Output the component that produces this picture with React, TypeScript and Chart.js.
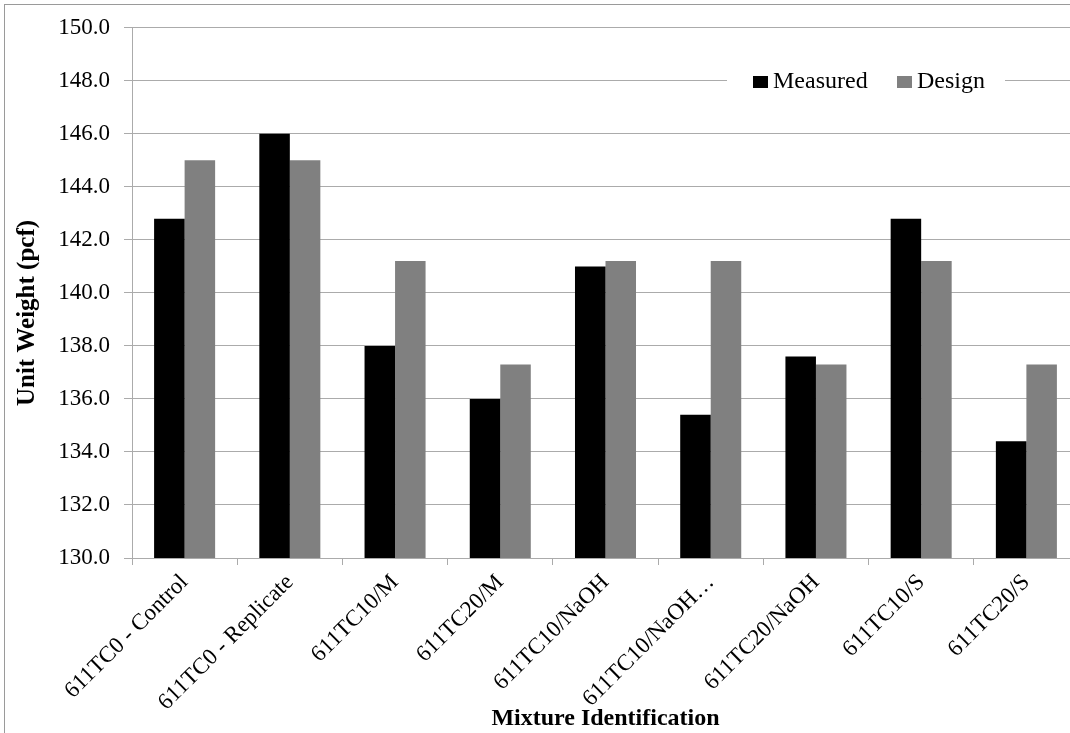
import React, { useEffect, useRef } from "react";
import { Chart, registerables } from "chart.js";

Chart.register(...registerables);

const categories = [
  "611TC0 - Control",
  "611TC0 - Replicate",
  "611TC10/M",
  "611TC20/M",
  "611TC10/NaOH",
  "611TC10/NaOH…",
  "611TC20/NaOH",
  "611TC10/S",
  "611TC20/S",
];
const measured = [142.8, 146.0, 138.0, 136.0, 141.0, 135.4, 137.6, 142.8, 134.4];
const design = [145.0, 145.0, 141.2, 137.3, 141.2, 141.2, 137.3, 141.2, 137.3];
const seriesNames = ["Measured", "Design"];
const yMin = 130;
const yMax = 150;
const yStep = 2;
const yTitle = "Unit Weight (pcf)";
const xTitle = "Mixture Identification";

const FONT = "'Liberation Serif', 'Times New Roman', serif";
const GRID = "#ababab";

const overlayPlugin = {
  id: "overlay",
  afterDraw(chart: any) {
    const ctx = chart.ctx;
    ctx.save();
    // y axis title
    ctx.translate(28, 313);
    ctx.rotate(-Math.PI / 2);
    ctx.font = `bold 25px ${FONT}`;
    ctx.fillStyle = "#000";
    ctx.textAlign = "center";
    ctx.textBaseline = "middle";
    ctx.fillText(yTitle, 0, 0);
    ctx.restore();

    // legend inside plot area
    ctx.save();
    ctx.fillStyle = "#fff";
    ctx.fillRect(727, 66, 278, 30);
    ctx.font = `24px ${FONT}`;
    ctx.textAlign = "left";
    ctx.textBaseline = "alphabetic";
    const xs = [753, 897];
    chart.data.datasets.forEach((ds: any, i: number) => {
      ctx.fillStyle = ds.backgroundColor;
      ctx.fillRect(xs[i], 76, 15, 12);
      ctx.fillStyle = "#000";
      ctx.fillText(ds.label, xs[i] + 20, 88);
    });
    ctx.restore();
  },
};

export default function App() {
  const ref = useRef<HTMLCanvasElement | null>(null);
  useEffect(() => {
    if (!ref.current) return;
    const chart = new Chart(ref.current, {
      type: "bar",
      data: {
        labels: categories,
        datasets: [
          { label: seriesNames[0], data: measured, backgroundColor: "#000000", borderWidth: 0 },
          { label: seriesNames[1], data: design, backgroundColor: "#808080", borderWidth: 0 },
        ],
      },
      options: {
        animation: false,
        responsive: false,
        devicePixelRatio: 1,
        layout: { padding: { left: 0, right: 11, top: 25, bottom: 0 } },
        datasets: { bar: { categoryPercentage: 0.58, barPercentage: 1.0 } },
        plugins: { legend: { display: false }, tooltip: { enabled: false } },
        scales: {
          x: {
            grid: { offset: true, drawOnChartArea: false, tickLength: 7, color: GRID },
            border: { display: true, color: GRID },
            ticks: {
              font: { family: FONT, size: 23 },
              color: "#000",
              minRotation: 45,
              maxRotation: 45,
              autoSkip: false,
              padding: 4,
            },
            title: {
              display: true,
              text: xTitle,
              font: { family: FONT, size: 24, weight: "bold" },
              color: "#000",
              padding: { top: 0, bottom: 0 },
            },
            afterFit(scale: any) {
              scale.height = 175;
            },
          },
          y: {
            min: yMin,
            max: yMax,
            grid: { color: GRID, tickLength: 8 },
            border: { display: true, color: GRID },
            ticks: {
              stepSize: yStep,
              font: { family: FONT, size: 23 },
              color: "#000",
              padding: 14,
              callback: (v: any) => Number(v).toFixed(1),
            },
            afterFit(scale: any) {
              scale.width = 132;
            },
          },
        },
      },
      plugins: [overlayPlugin],
    } as any);
    return () => chart.destroy();
  }, []);

  return (
    <div
      style={{
        position: "fixed",
        left: 0,
        top: 0,
        width: 1070,
        height: 733,
        overflow: "hidden",
        background: "#fff",
      }}
    >
      <div
        style={{
          position: "absolute",
          left: 4,
          top: 4,
          width: 1200,
          height: 1000,
          borderLeft: "1px solid #9a9a9a",
          borderTop: "1px solid #9a9a9a",
        }}
      />
      <canvas
        ref={ref}
        width={1090}
        height={733}
        style={{ position: "absolute", left: 0, top: 0 }}
      />
    </div>
  );
}
